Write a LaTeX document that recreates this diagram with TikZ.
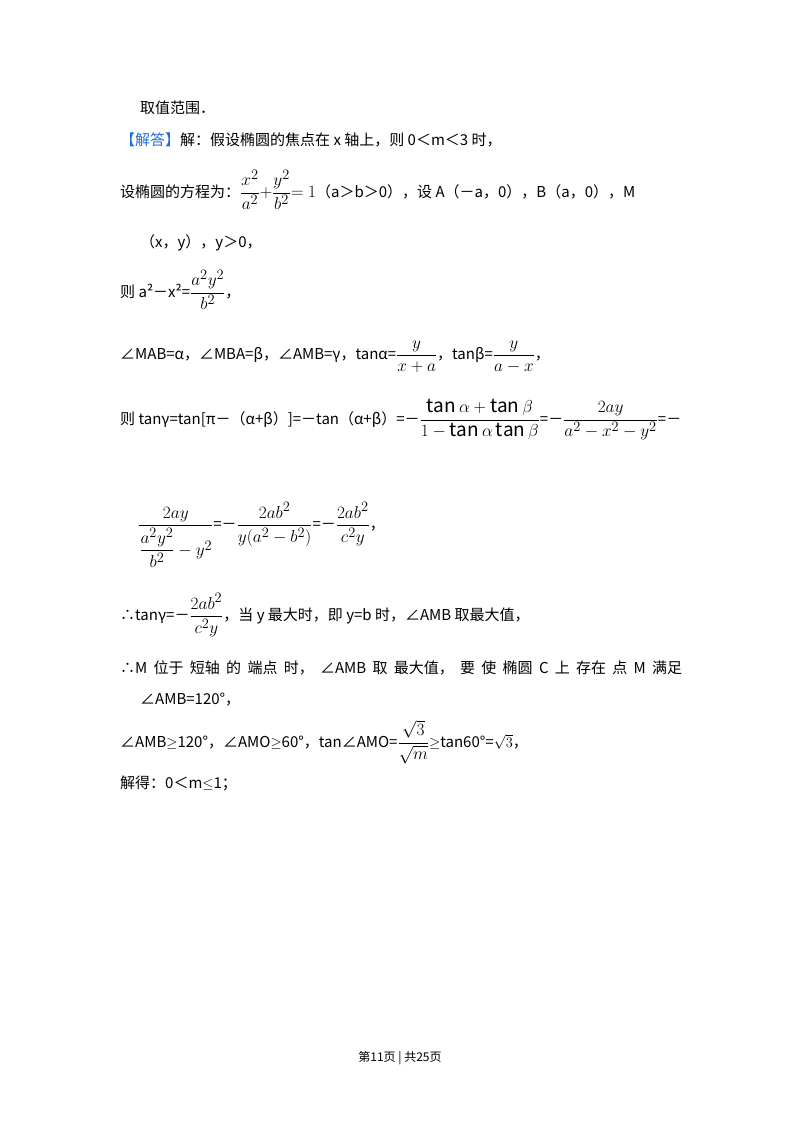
\documentclass[tikz,border=0pt]{standalone}
\usepackage{amsmath}
\usepackage{fontspec}
\setmainfont{Noto Sans CJK SC}
\newcommand{\Fr}[2]{{\fontsize{19}{22}\selectfont$\dfrac{#1}{#2}$}}
\begin{document}
\begin{tikzpicture}[x=1pt,y=1pt,txt/.style={anchor=west,inner sep=0pt,font=\fontsize{15}{18}\selectfont}]
\useasboundingbox[fill=white] (0,0) rectangle (800,-1132);
\node[txt] (l1) at (140,-108) {取值范围．};
\node[txt] (l2) at (120,-140) {\textcolor[RGB]{30,110,220}{【解答】}解：假设椭圆的焦点在 x 轴上，则 0＜m＜3 时，};
\node[txt] (l3) at (120,-190) {设椭圆的方程为：\Fr{x^2}{a^2}{\fontsize{19}{22}\selectfont$+$}\Fr{y^2}{b^2}{\fontsize{19}{22}\selectfont$=1$}（a＞b＞0），设 A（－a，0），B（a，0），M};
\node[txt] (l4) at (140,-243) {（x，y），y＞0，};
\node[txt] (l5) at (120,-290) {则 a²－x²=\Fr{a^2y^2}{b^2}，};
\node[txt] (l6) at (120,-357) {∠MAB=α，∠MBA=β，∠AMB=γ，tanα=\Fr{y}{x+a}，tanβ=\Fr{y}{a-x}，};
\node[txt] (l7) at (120,-420) {则 tanγ=tan[π－（α+β）]=－tan（α+β）=－\Fr{\tan\alpha+\tan\beta}{1-\tan\alpha\tan\beta}=－\Fr{2ay}{a^2-x^2-y^2}=－};
\node[txt] (l8) at (138,-535) {\Fr{2ay}{\dfrac{a^2y^2}{b^2}-y^2}=－\Fr{2ab^2}{y(a^2-b^2)}=－\Fr{2ab^2}{c^2y}，};
\node[txt] (l9) at (120,-615) {∴tanγ=－\Fr{2ab^2}{c^2y}，当 y 最大时，即 y=b 时，∠AMB 取最大值，};
\node[txt] (l10) at (120,-668) {\makebox[562pt][s]{∴M 位于 短轴 的 端点 时， ∠AMB 取 最大值， 要 使 椭圆 C 上 存在 点 M 满足}};
\node[txt] (l11) at (140,-700) {∠AMB=120°，};
\node[txt] (l12) at (120,-742) {∠AMB$\geq$120°，∠AMO$\geq$60°，tan∠AMO=\Fr{\sqrt{3}}{\sqrt{m}}$\geq$tan60°=$\sqrt{3}$，};
\node[txt] (l13) at (120,-783) {解得：0＜m$\leq$1；};
\node[inner sep=0pt,font=\fontsize{12}{14}\selectfont] (ft) at (400,-1058) {第11页 | 共25页};
\end{tikzpicture}
\end{document}
